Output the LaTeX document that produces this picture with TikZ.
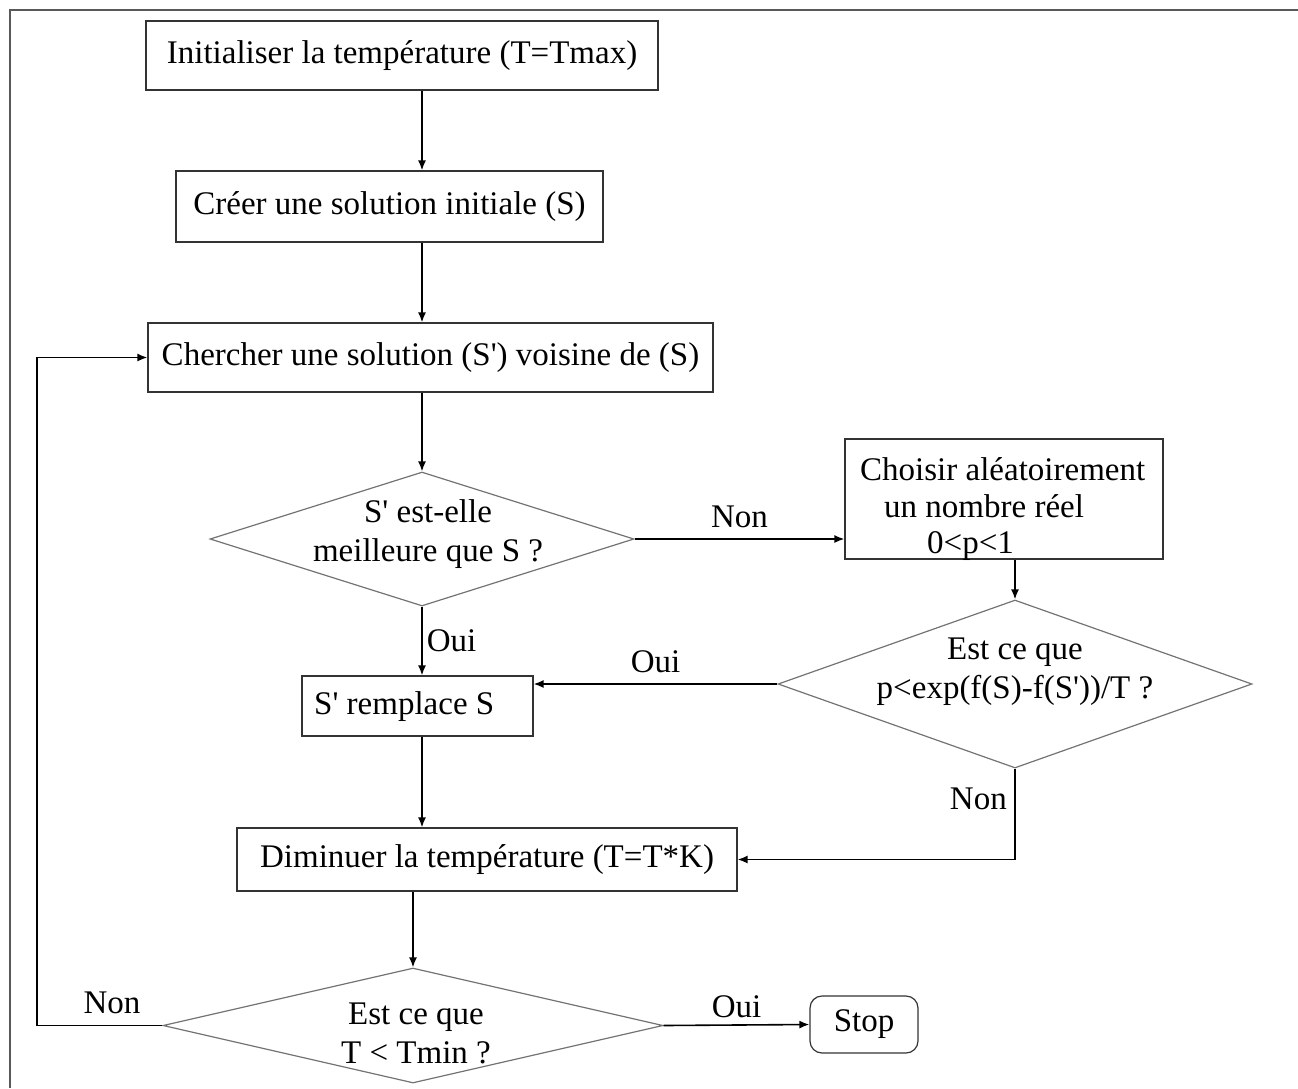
\documentclass[tikz,border=0pt]{standalone}
\usepackage{fontspec}
\setmainfont{Liberation Serif}[Ligatures=TeXOff]
\usetikzlibrary{shapes.geometric,arrows.meta,calc}
\begin{document}
\begin{tikzpicture}[x=1pt,y=-1pt,
  every node/.style={font=\fontsize{33}{39}\selectfont},
  procbox/.style={draw=black!80,line width=1.2pt,rectangle,inner sep=0pt},
  decbox/.style={draw=black!55,line width=1.2pt,diamond,inner sep=0pt},
  txt/.style={inner sep=0pt,align=center},
  lbl/.style={inner sep=0pt},
  arr/.style={draw=black,line width=1.6pt,-{Latex[length=10pt,width=8pt]}}]
\useasboundingbox (0,0) rectangle (1298,1088);
\draw[black!65,line width=1.5pt] (1298,10) -- (10,10) -- (10,1088);

\node[procbox,minimum width=512pt,minimum height=69pt] (b1) at (402,55.5) {Initialiser la température (T=Tmax)};
\node[procbox,minimum width=427pt,minimum height=71pt] (b2) at (389.5,206.5) {Créer une solution initiale (S)};
\node[procbox,minimum width=565pt,minimum height=69pt] (b3) at (430.5,357.5) {Chercher une solution (S') voisine de (S)};
\node[decbox,minimum width=424pt,minimum height=134pt] (d1) at (422,539) {};
\node[txt] (d1t) at (428,534) {S' est-elle\\meilleure que S ?};
\node[procbox,minimum width=318pt,minimum height=120pt] (b4) at (1004,499) {};
\node[lbl,anchor=base west] (b4a) at (860,480) {Choisir aléatoirement};
\node[lbl,anchor=base west] (b4b) at (884,517) {un nombre réel};
\node[lbl,anchor=base west] (b4c) at (927,553) {0<p<1};
\node[decbox,minimum width=474pt,minimum height=168pt] (d2) at (1015,684) {};
\node[txt] (d2t) at (1015,672) {Est ce que\\p<exp(f(S)-f(S'))/T ?};
\node[procbox,minimum width=231pt,minimum height=60pt] (b5) at (417.5,706) {};
\node[lbl,anchor=base west] (b5t) at (314,714) {S' remplace S};
\node[procbox,minimum width=500pt,minimum height=63pt] (b6) at (487,859.5) {Diminuer la température (T=T*K)};
\node[decbox,minimum width=500pt,minimum height=115pt] (d3) at (413,1025.5) {};
\node[txt] (d3t) at (416,1033) {Est ce que\\T < Tmin ?};
\node[procbox,rounded corners=12pt,minimum width=108pt,minimum height=57pt] (stop) at (864,1024.5) {Stop};

\coordinate (loopx) at (37,0);

\draw[arr] (b1.south -| d1) -- (b2.north -| d1);
\draw[arr] (b2.south -| d1) -- (b3.north -| d1);
\draw[arr] (b3.south -| d1) -- (d1.north);
\draw[arr] (d1.east) -- (d1.east -| b4.west) node[lbl,midway,above=10pt] (l1) {Non};
\draw[arr] (b4.south -| d2) -- (d2.north);
\draw[arr] (d1.south) -- (b5.north -| d1) node[lbl,midway,right=4pt] (l2) {Oui};
\draw[arr] (d2.west) -- (b5.east |- d2.west) node[lbl,midway,above=10pt] (l3) {Oui};
\draw[arr] (d2.south) -- (d2.south |- b6.east) -- (b6.east);
\node[lbl,anchor=east] (l4) at (1007,799) {Non};
\draw[arr] (b5.south -| d1) -- (b6.north -| d1);
\draw[arr] (b6.south -| d3) -- (d3.north);
\draw[arr] (d3.west) -- (d3.west -| loopx) -- (b3.west -| loopx) -- (b3.west);
\node[lbl] (l5) at (112,1003) {Non};
\draw[arr] (d3.east) -- (stop.west) node[lbl,midway,above=6pt] (l6) {Oui};
\end{tikzpicture}
\end{document}
